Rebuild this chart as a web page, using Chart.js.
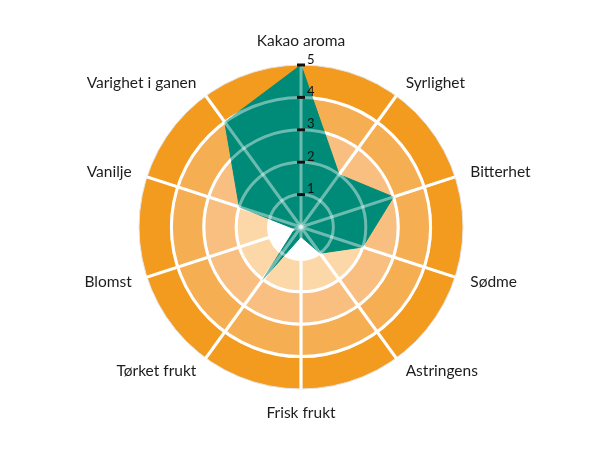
<!DOCTYPE html>
<html>
<head>
<meta charset="utf-8">
<script src="https://cdn.jsdelivr.net/npm/chart.js@4.4.0/dist/chart.umd.min.js"></script>
<style>
  html, body { margin: 0; background: #fff; }
  #wrap { width: 610px; height: 450px; }
</style>
</head>
<body>
<div id="wrap"><canvas id="chart"></canvas></div>
<script>
const labels = ['Kakao aroma', 'Syrlighet', 'Bitterhet', 'Sødme', 'Astringens', 'Frisk frukt', 'Tørket frukt', 'Blomst', 'Vanilje', 'Varighet i ganen'];
const scores = [5, 2, 3, 2, 1, 0.3, 2, 0.2, 2, 4];
const tickValues = [1, 2, 3, 4, 5];
// band fill from the centre outwards: 0-1, 1-2, 2-3, 3-4, 4-5
const bandColors = ['#ffffff', '#fcd7a8', '#f8bf80', '#f6ae52', '#f39b1f'];

const circle = (ctx, x, y, r) => { ctx.beginPath(); ctx.arc(x, y, r, 0, Math.PI * 2); };

// orange rings behind the grid
const bands = {
  id: 'bands',
  beforeDraw(chart) {
    const r = chart.scales.r, ctx = chart.ctx;
    ctx.save();
    for (let i = bandColors.length - 1; i >= 0; i--) {
      circle(ctx, r.xCenter, r.yCenter, r.getDistanceFromCenterForValue(i + 1));
      ctx.fillStyle = bandColors[i];
      ctx.fill();
    }
    ctx.restore();
  }
};

// grid seen through the teal shape, plus ticks and labels
const overlay = {
  id: 'overlay',
  afterDatasetsDraw(chart) {
    const r = chart.scales.r, ctx = chart.ctx;
    const outer = r.getDistanceFromCenterForValue(r.max);
    ctx.save();
    ctx.strokeStyle = 'rgba(255,255,255,0.42)';
    ctx.lineWidth = 3;
    tickValues.slice(0, -1).forEach((v) => {
      circle(ctx, r.xCenter, r.yCenter, r.getDistanceFromCenterForValue(v));
      ctx.stroke();
    });
    labels.forEach((_, i) => {
      const p = r.getPointPosition(i, outer);
      ctx.beginPath();
      ctx.moveTo(r.xCenter, r.yCenter);
      ctx.lineTo(p.x, p.y);
      ctx.stroke();
    });
    ctx.restore();
  },
  afterDraw(chart) {
    const r = chart.scales.r, ctx = chart.ctx;
    ctx.save();
    ctx.fillStyle = '#111';
    ctx.font = '13px Lato';
    ctx.textAlign = 'left';
    ctx.textBaseline = 'alphabetic';
    tickValues.forEach((v) => {
      const y = r.yCenter - r.getDistanceFromCenterForValue(v);
      ctx.fillRect(r.xCenter - 4, y - 1.5, 8, 3);
      ctx.fillText(String(v), r.xCenter + 6, y - 1.5);
    });

    ctx.fillStyle = '#1d1d1d';
    ctx.font = '15.5px Lato';
    const dist = r.drawingArea + 16;
    labels.forEach((text, i) => {
      const p = r.getPointPosition(i, dist);
      const dx = p.x - r.xCenter;
      if (Math.abs(dx) < 1) {
        ctx.textAlign = 'center';
        ctx.textBaseline = p.y < r.yCenter ? 'bottom' : 'top';
      } else {
        ctx.textAlign = dx > 0 ? 'left' : 'right';
        ctx.textBaseline = 'middle';
      }
      ctx.fillText(text, p.x, p.y);
    });
    ctx.restore();
  }
};

new Chart(document.getElementById('chart'), {
  type: 'radar',
  data: {
    labels,
    datasets: [{
      data: scores,
      backgroundColor: '#008a78',
      borderColor: '#008a78',
      borderWidth: 1,
      pointRadius: 0,
      fill: true
    }]
  },
  options: {
    responsive: true,
    maintainAspectRatio: false,
    animation: false,
    layout: { padding: { top: 65, bottom: 61, left: 139, right: 147 } },
    plugins: { legend: { display: false }, tooltip: { enabled: false } },
    scales: {
      r: {
        min: 0,
        max: 5,
        ticks: { display: false, stepSize: 1 },
        pointLabels: { display: false },
        grid: {
          circular: true,
          color: (c) => c.index === 5 ? '#e4e4e4' : '#ffffff',
          lineWidth: (c) => c.index === 5 ? 1 : 3
        },
        angleLines: { color: '#ffffff', lineWidth: 3 }
      }
    }
  },
  plugins: [bands, overlay]
});
</script>
</body>
</html>
